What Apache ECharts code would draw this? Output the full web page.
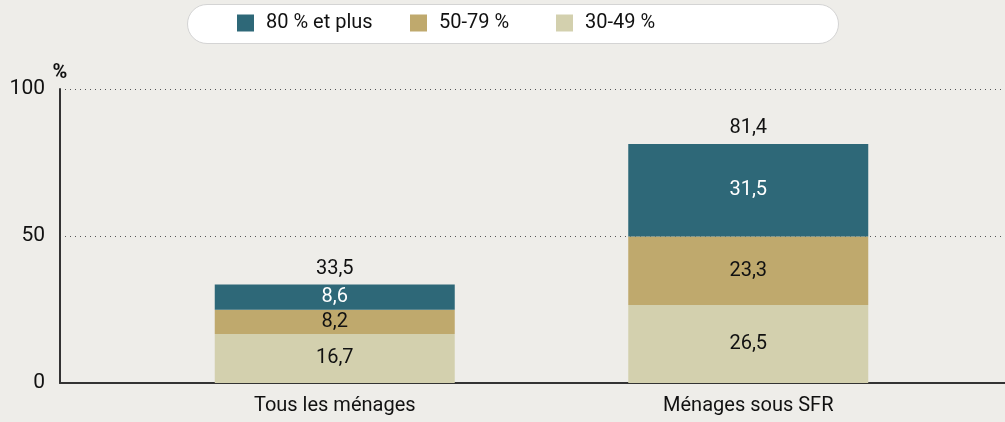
<!DOCTYPE html>
<html lang="fr">
<head>
    <meta charset="UTF-8">
    <title>Ménages</title>
    <script src="https://cdn.jsdelivr.net/npm/echarts@6/dist/echarts.min.js"></script>
    <style>
        html, body { margin: 0; padding: 0; background: #eeede9; }
        #main { width: 1005px; height: 422px; }
    </style>
</head>
<body>
    <div id="main"></div>
    <script>
        var categories = ['Tous les ménages', 'Ménages sous SFR'];
        var legendNames = ['80 % et plus', '50-79 %', '30-49 %'];
        var part30 = [16.7, 26.5];
        var part50 = [8.2, 23.3];
        var part80 = [8.6, 31.5];
        var totals = [33.5, 81.4];
        var yTicks = [0, 50, 100];

        var font = 'Roboto, "Liberation Sans", sans-serif';
        var fmt = function (v) { return String(v).replace('.', ','); };
        var legendLeft = [237, 410, 556];

        function barSeries(name, data, color, labelColor) {
            return {
                name: name,
                type: 'bar',
                stack: 'total',
                xAxisIndex: 1,
                yAxisIndex: 1,
                barWidth: 240,
                itemStyle: { color: color },
                label: {
                    show: true,
                    position: 'inside',
                    color: labelColor,
                    fontFamily: font,
                    fontSize: 20,
                    formatter: function (p) { return fmt(p.value); }
                },
                data: data
            };
        }

        // one legend per item so each sits where the original puts it
        var legends = legendNames.map(function (n, i) {
            return {
                data: [n],
                left: legendLeft[i],
                top: 13,
                padding: 0,
                itemWidth: 17,
                itemHeight: 17,
                icon: 'rect',
                textStyle: { fontFamily: font, fontSize: 20, color: '#111', padding: [5, 0, 0, 7] }
            };
        });

        var option = {
            backgroundColor: '#eeede9',
            animation: false,
            textStyle: { fontFamily: font },
            graphic: [{
                type: 'rect',
                left: 187,
                top: 4,
                shape: { width: 651, height: 39, r: 20 },
                style: { fill: '#ffffff', stroke: '#d4d4d4', lineWidth: 1 },
                z: -1
            }],
            legend: legends,
            grid: [
                { left: 60, right: 0, top: 89, bottom: 39 },
                { left: 128, right: 50, top: 89, bottom: 39 }
            ],
            xAxis: [{
                gridIndex: 0,
                type: 'value',
                min: 0,
                max: 1,
                axisLine: { show: true, lineStyle: { color: '#333', width: 2 } },
                axisTick: { show: false },
                axisLabel: { show: false },
                splitLine: { show: false }
            }, {
                gridIndex: 1,
                type: 'category',
                data: categories,
                axisLine: { show: false },
                axisTick: { show: false },
                axisLabel: { color: '#111', fontFamily: font, fontSize: 20, margin: 13 }
            }],
            yAxis: [{
                gridIndex: 0,
                type: 'value',
                min: yTicks[0],
                max: yTicks[yTicks.length - 1],
                interval: yTicks[1] - yTicks[0],
                name: '%',
                nameLocation: 'end',
                nameGap: 6,
                nameTextStyle: { fontFamily: font, fontSize: 20, fontWeight: 'bold', color: '#111' },
                axisLine: { show: true, lineStyle: { color: '#333', width: 2 } },
                axisTick: { show: false },
                axisLabel: { color: '#111', fontFamily: font, fontSize: 21, margin: 15 },
                splitLine: { show: true, lineStyle: { color: '#555', type: [1, 4], width: 1 } }
            }, {
                gridIndex: 1,
                type: 'value',
                min: 0,
                max: 100,
                show: false
            }],
            series: [
                barSeries('30-49 %', part30, '#d3d0ae', '#111'),
                barSeries('50-79 %', part50, '#bfa96d', '#111'),
                barSeries('80 % et plus', part80, '#2e6878', '#ffffff'),
                {
                    name: 'total',
                    type: 'bar',
                    stack: 'total',
                    xAxisIndex: 1,
                    yAxisIndex: 1,
                    barWidth: 240,
                    itemStyle: { color: 'transparent' },
                    label: {
                        show: true,
                        position: 'top',
                        distance: 6,
                        color: '#111',
                        fontFamily: font,
                        fontSize: 20,
                        formatter: function (p) { return fmt(totals[p.dataIndex]); }
                    },
                    data: totals.map(function () { return 0; })
                }
            ]
        };

        var myChart = echarts.init(document.getElementById('main'));
        myChart.setOption(option);
    </script>
</body>
</html>
